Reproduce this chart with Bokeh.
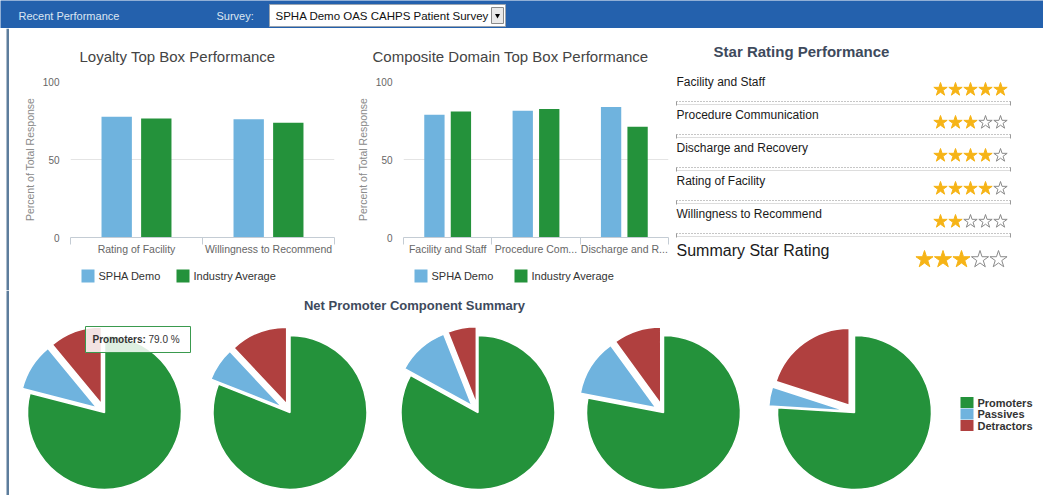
import math
from bokeh.plotting import figure
from bokeh.models import Range1d, FixedTicker
from bokeh.layouts import column, row
from bokeh.core.properties import value
from bokeh.embed import file_html
from bokeh.resources import INLINE

# ---------------- data ----------------
HEADER_LABEL = "Recent Performance"
SURVEY_LABEL = "Survey:"
SURVEY_NAME = "SPHA Demo OAS CAHPS Patient Survey"

SERIES = ["SPHA Demo", "Industry Average"]
Y_TICKS = [0, 50, 100]
Y_LABEL = "Percent of Total Response"

LOYALTY_TITLE = "Loyalty Top Box Performance"
LOYALTY_CATS = ["Rating of Facility", "Willingness to Recommend"]
LOYALTY_DEMO = [77.4, 75.8]
LOYALTY_IND = [76.3, 73.6]

COMPOSITE_TITLE = "Composite Domain Top Box Performance"
COMPOSITE_CATS = ["Facility and Staff", "Procedure Com...", "Discharge and R..."]
COMPOSITE_DEMO = [78.7, 81.2, 83.6]
COMPOSITE_IND = [80.8, 82.3, 71.0]

STAR_TITLE = "Star Rating Performance"
STAR_LABELS = ["Facility and Staff", "Procedure Communication", "Discharge and Recovery",
               "Rating of Facility", "Willingness to Recommend"]
STAR_RATINGS = [5, 3, 4, 4, 2]
SUMMARY_LABEL = "Summary Star Rating"
SUMMARY_RATING = 3
MAX_STARS = 5

NPS_TITLE = "Net Promoter Component Summary"
NPS_CATS = ["Promoters", "Passives", "Detractors"]
PROMOTERS = [79.0, 81.0, 83.0, 78.0, 76.0]
PASSIVES = [10.0, 7.0, 11.0, 12.0, 4.0]
DETRACTORS = [11.0, 12.0, 6.0, 10.0, 20.0]
TOOLTIP_PIE = 0

# ---------------- style ----------------
FONT = "Liberation Sans"
BLUE = "#6fb3de"
GREEN = "#24923b"
RED = "#b0403f"
HEADER_BG = "#2461ad"
BORDER_C = "#5d7d9c"
TITLE_DARK = "#3e4a5c"
GOLD = "#f6b417"


def base_fig(w, h, xr, yr):
    p = figure(width=w, height=h, x_range=xr, y_range=yr,
               x_axis_type=None, y_axis_type=None, output_backend="svg",
               toolbar_location=None, tools="")
    p.min_border = 0
    p.outline_line_color = None
    p.background_fill_color = "white"
    p.border_fill_color = "white"
    p.xgrid.visible = False
    p.ygrid.visible = False
    return p


# ---------------- header ----------------
hdr = base_fig(1043, 28, Range1d(0, 1043), Range1d(28, 0))
hdr.background_fill_color = HEADER_BG
hdr.border_fill_color = HEADER_BG
hdr.text(x=[18, 216], y=[15, 15], text=[HEADER_LABEL, SURVEY_LABEL],
         text_font=value(FONT), text_font_size=value("11px"), text_color="#dce6f2",
         text_baseline="middle", text_align="left")
hdr.quad(left=[269], right=[505], top=[4], bottom=[26], fill_color="white", line_color="#9aa4b0")
hdr.quad(left=[491], right=[503], top=[7], bottom=[23], fill_color="#e9e9e9", line_color="#8a8a8a")
hdr.scatter(x=[497], y=[15], marker="inverted_triangle", size=5, fill_color="black", line_color=None)
hdr.text(x=[275], y=[15.5], text=[SURVEY_NAME], text_font=value(FONT),
         text_font_size=value("11.5px"), text_color="#111111",
         text_baseline="middle", text_align="left")


# ---------------- left border pieces ----------------
def border_fig(h):
    b = base_fig(9, h, Range1d(0, 9), Range1d(0, 1))
    b.quad(left=[6], right=[8.5], bottom=[0], top=[1], fill_color=BORDER_C, line_color=None)
    return b


brd1 = border_fig(262)
brd2 = border_fig(205)


# ---------------- bar charts ----------------
def bar_chart(title, cats, demo, ind, width, frame_left, frame_right, title_offset):
    n = len(cats)
    p = figure(width=width, height=240, x_range=Range1d(0, n), y_range=Range1d(0, 100),
               output_backend="svg", toolbar_location=None, tools="")
    p.min_border_left = frame_left
    p.min_border_right = width - frame_right
    p.min_border_top = 53
    p.min_border_bottom = 31
    p.outline_line_color = None
    p.background_fill_color = "white"
    p.border_fill_color = "white"

    p.vbar(x=[i + 0.5 - 0.15 for i in range(n)], top=demo, width=0.23,
           fill_color=BLUE, line_color=None)
    p.vbar(x=[i + 0.5 + 0.15 for i in range(n)], top=ind, width=0.23,
           fill_color=GREEN, line_color=None)

    p.title.text = title
    p.title.align = "left"
    p.title.offset = title_offset
    p.title.standoff = 34
    p.title.text_font = FONT
    p.title.text_font_size = "15px"
    p.title.text_font_style = "normal"
    p.title.text_color = "#444444"

    yax = p.yaxis[0]
    yax.ticker = FixedTicker(ticks=Y_TICKS)
    yax.axis_label = Y_LABEL
    yax.axis_label_text_font = FONT
    yax.axis_label_text_font_size = "10.5px"
    yax.axis_label_text_font_style = "normal"
    yax.axis_label_text_color = "#8a8a8a"
    yax.axis_label_standoff = 4
    yax.major_label_text_font = FONT
    yax.major_label_text_font_size = "10px"
    yax.major_label_text_color = "#666666"
    yax.major_label_standoff = 5
    yax.axis_line_color = None
    yax.major_tick_line_color = None
    yax.minor_tick_line_color = None

    p.ygrid.ticker = FixedTicker(ticks=Y_TICKS)
    p.ygrid.grid_line_color = "#e4e4e4"
    p.xgrid.visible = False

    xax = p.xaxis[0]
    xax.ticker = FixedTicker(ticks=[i + 0.5 for i in range(n)], minor_ticks=list(range(n + 1)))
    xax.major_label_overrides = {i + 0.5: c for i, c in enumerate(cats)}
    xax.major_label_text_font = FONT
    xax.major_label_text_font_size = "10.5px"
    xax.major_label_text_color = "#666666"
    xax.major_label_standoff = -2
    xax.axis_line_color = "#c4ccd4"
    xax.major_tick_line_color = None
    xax.major_tick_out = 0
    xax.major_tick_in = 0
    xax.minor_tick_line_color = "#c4ccd4"
    xax.minor_tick_out = 7
    xax.minor_tick_in = 0
    return p


def legend_fig(page_x0, page_x1, frame_x0, frame_x1, item_x):
    # legend strip below a bar chart; its frame is aligned with the chart frame,
    # so the x range is that frame's page extent
    lf = base_fig(page_x1 - page_x0, 22, Range1d(frame_x0, frame_x1), Range1d(22, 0))
    lf.quad(left=item_x, right=[x + 13 for x in item_x], top=[1] * 2, bottom=[14] * 2,
            fill_color=[BLUE, GREEN], line_color=None)
    lf.text(x=[x + 17 for x in item_x], y=[7.5] * 2, text=SERIES, text_font=value(FONT),
            text_font_size=value("11px"), text_color="#333333",
            text_align="left", text_baseline="middle")
    return lf


b1 = bar_chart(LOYALTY_TITLE, LOYALTY_CATS, LOYALTY_DEMO, LOYALTY_IND,
               331, 61, 325, 9)
b2 = bar_chart(COMPOSITE_TITLE, COMPOSITE_CATS, COMPOSITE_DEMO, COMPOSITE_IND,
               330, 63, 328, -31)
l1 = legend_fig(9, 340, 70, 334, [81, 176])
l2 = legend_fig(340, 670, 403, 668, [414, 514])

# ---------------- star ratings ----------------
st = base_fig(373, 262, Range1d(0, 373), Range1d(262, 0))
st.text(x=[131], y=[23], text=[STAR_TITLE], text_font=value(FONT),
        text_font_size=value("15px"), text_font_style="bold", text_color=TITLE_DARK,
        text_align="center", text_baseline="middle")

ROW0, PITCH = 53, 33
label_y = [ROW0 + PITCH * i for i in range(len(STAR_LABELS))]
st.text(x=[6] * len(STAR_LABELS), y=label_y, text=STAR_LABELS, text_font=value(FONT),
        text_font_size=value("12px"), text_color="#1a1a1a",
        text_align="left", text_baseline="middle")
summary_y = ROW0 + PITCH * len(STAR_LABELS) + 4
st.text(x=[6], y=[summary_y], text=[SUMMARY_LABEL], text_font=value(FONT),
        text_font_size=value("16px"), text_color="#1a1a1a",
        text_align="left", text_baseline="middle")

sep_y = [y + 20 for y in label_y]
st.segment(x0=[6] * len(sep_y), x1=[340] * len(sep_y), y0=sep_y, y1=sep_y,
           line_color="#8c8c8c", line_width=1, line_dash="1 2")
st.segment(x0=[6] * len(sep_y), x1=[340] * len(sep_y), y0=[y + 3 for y in sep_y],
           y1=[y + 3 for y in sep_y], line_color="#dddddd", line_width=1)
st.segment(x0=[6] * len(sep_y) + [340] * len(sep_y), x1=[6] * len(sep_y) + [340] * len(sep_y),
           y0=sep_y * 2, y1=[y + 4 for y in sep_y] * 2, line_color="#9a9a9a", line_width=1)

fx, fy, ex, ey = [], [], [], []
for i, r in enumerate(STAR_RATINGS):
    for k in range(MAX_STARS):
        (fx if k < r else ex).append(270 + 15 * k)
        (fy if k < r else ey).append(label_y[i] + 8)
st.scatter(x=fx, y=fy, marker="star", size=14, fill_color=GOLD, line_color=GOLD)
st.scatter(x=ex, y=ey, marker="star", size=14, fill_color="white", line_color="#8a8a8a", line_width=1)
sfx, sfy, sex, sey = [], [], [], []
for k in range(MAX_STARS):
    (sfx if k < SUMMARY_RATING else sex).append(254 + 18.5 * k)
    (sfy if k < SUMMARY_RATING else sey).append(summary_y + 9)
st.scatter(x=sfx, y=sfy, marker="star", size=18, fill_color=GOLD, line_color=GOLD)
st.scatter(x=sex, y=sey, marker="star", size=18, fill_color="white", line_color="#8a8a8a", line_width=1)

# ---------------- pies ----------------
pf = base_fig(1034, 205, Range1d(9, 1043), Range1d(0, 205))


def py(page_y):
    return 495 - page_y


pf.text(x=[414], y=[py(305)], text=[NPS_TITLE], text_font=value(FONT),
        text_font_size=value("13px"), text_font_style="bold", text_color=TITLE_DARK,
        text_align="center", text_baseline="middle")

PIE_CX = [104, 289.5, 477.5, 663, 854]
PIE_CY = py(412)
PIE_R = 77
SLICE_OFF = 9
COLS = [GREEN, BLUE, RED]
wx, wy, ws, we, wc = [], [], [], [], []
for i in range(len(PROMOTERS)):
    vals = [PROMOTERS[i], PASSIVES[i], DETRACTORS[i]]
    tot = sum(vals)
    cum = 0.0
    for j, v in enumerate(vals):
        f = v / tot
        end = math.pi / 2 - 2 * math.pi * cum
        start = math.pi / 2 - 2 * math.pi * (cum + f)
        mid = (start + end) / 2
        off = 0 if j == 0 else SLICE_OFF
        wx.append(PIE_CX[i] + off * math.cos(mid))
        wy.append(PIE_CY + off * math.sin(mid))
        ws.append(start)
        we.append(end)
        wc.append(COLS[j])
        cum += f
pf.wedge(x=wx, y=wy, radius=PIE_R, start_angle=ws, end_angle=we, direction="anticlock",
         fill_color=wc, line_color="white", line_width=1.5)

leg_y = [py(402 + 11.5 * j) for j in range(len(NPS_CATS))]
pf.rect(x=[966.5] * 3, y=leg_y, width=13, height=11, fill_color=COLS, line_color=None)
pf.text(x=[977] * 3, y=leg_y, text=NPS_CATS, text_font=value(FONT),
        text_font_size=value("11px"), text_font_style="bold", text_color="#333333",
        text_align="left", text_baseline="middle")

pf.quad(left=[85], right=[190], top=[py(326)], bottom=[py(352)],
        fill_color="white", fill_alpha=0.85, line_color="#3a9a4e", line_width=1)
pf.text(x=[92], y=[py(339)], text=[NPS_CATS[0] + ":"], text_font=value(FONT),
        text_font_size=value("10px"), text_font_style="bold", text_color="#333333",
        text_align="left", text_baseline="middle")
pf.text(x=[148], y=[py(339)], text=["%.1f %%" % PROMOTERS[TOOLTIP_PIE]], text_font=value(FONT),
        text_font_size=value("10px"), text_color="#333333",
        text_align="left", text_baseline="middle")

layout = column(hdr, row(brd1, column(b1, l1), column(b2, l2), st), row(brd2, pf))
open("out.html", "w").write(file_html(layout, INLINE))
